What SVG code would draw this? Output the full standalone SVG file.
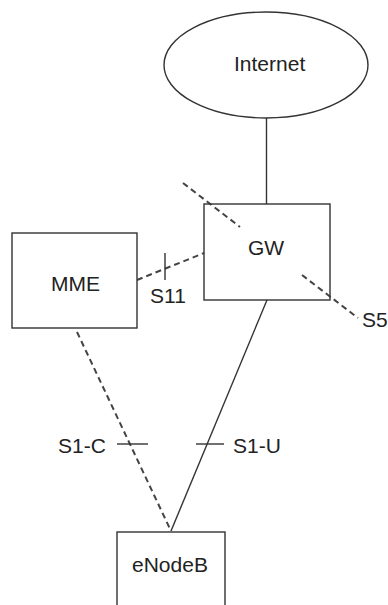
<svg xmlns="http://www.w3.org/2000/svg" width="388" height="605" viewBox="0 0 388 605">
<style>
.node{fill:#fff;stroke:#333;stroke-width:1.4}
.t{font-family:"Liberation Sans",Arial,sans-serif;font-size:21px;fill:#222}
.solid{stroke:#333;stroke-width:1.4;fill:none}
.dash{stroke:#444;stroke-width:2;stroke-dasharray:6 4;fill:none}
</style>
<rect width="388" height="605" fill="#fff"/>
<g id="connectors">
<line class="solid" x1="266.5" y1="118" x2="266.5" y2="204"/>
<line class="dash" x1="137" y1="280" x2="204" y2="253"/>
<line class="solid" x1="165" y1="253" x2="165" y2="280"/>
<line class="dash" x1="183" y1="183" x2="240" y2="227"/>
<line class="dash" x1="302" y1="275" x2="358" y2="318"/>
<line class="solid" x1="267" y1="300" x2="171" y2="531"/>
<line class="solid" x1="196" y1="444" x2="224" y2="444"/>
<line class="dash" x1="77" y1="332" x2="171" y2="531"/>
<line class="solid" x1="117" y1="444" x2="148" y2="444"/>
<text class="t" x="150" y="303">S11</text>
<text class="t" x="362" y="327">S5</text>
<text class="t" x="58" y="453">S1-C</text>
<text class="t" x="233" y="453">S1-U</text>
</g>
<g id="internet">
<ellipse class="node" cx="266" cy="65" rx="102" ry="53"/>
<text class="t" x="234" y="71">Internet</text>
</g>
<g id="gw">
<rect class="node" x="204" y="204" width="126" height="96" fill="none" style="fill:none"/>
<text class="t" x="248" y="255">GW</text>
</g>
<g id="mme">
<rect class="node" x="12" y="233" width="125" height="95"/>
<text class="t" x="51" y="291">MME</text>
</g>
<g id="enodeb">
<rect class="node" x="117" y="532" width="108" height="90"/>
<text class="t" x="132" y="572">eNodeB</text>
</g>
</svg>
